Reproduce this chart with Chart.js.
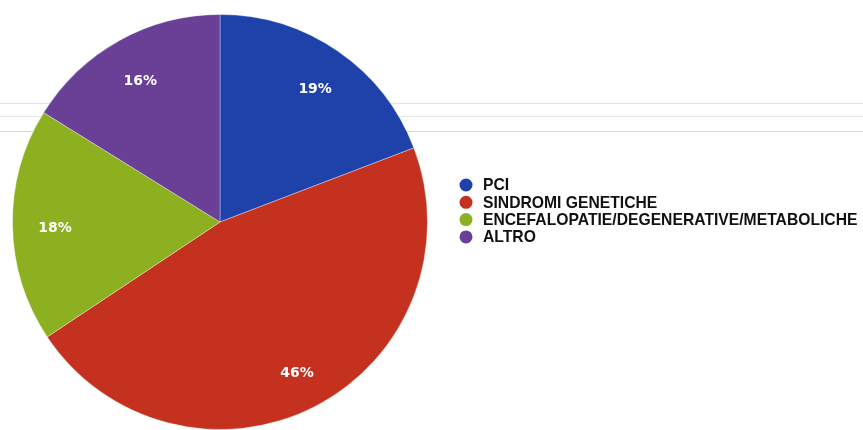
<!DOCTYPE html>
<html>
<head>
<meta charset="utf-8">
<script src="https://cdn.jsdelivr.net/npm/chart.js@4.4.0/dist/chart.umd.min.js"></script>
<style>
  html, body { margin: 0; padding: 0; background: #fff; }
  #wrap {
    position: relative; width: 863px; height: 430px;
    /* faint scan lines in the original */
    background:
      linear-gradient(#e2e2e2, #e2e2e2) 0 103px / 100% 1px no-repeat,
      linear-gradient(#e6e6e6, #e6e6e6) 0 116px / 100% 1px no-repeat,
      linear-gradient(#d6d6d6, #d6d6d6) 0 131px / 100% 1px no-repeat,
      #fff;
  }
  canvas { position: absolute; left: 0; top: 0; }
</style>
</head>
<body>
<div id="wrap"><canvas id="pieChart" width="863" height="430"></canvas></div>
<script>
// Dati
const categories = ['PCI', 'SINDROMI GENETICHE', 'ENCEFALOPATIE/DEGENERATIVE/METABOLICHE', 'ALTRO'];
const percentages = [19, 46, 18, 16];
const sliceColors = ['#1e42aa', '#c4321f', '#8cb020', '#6a3f96'];

// etichette percentuali dentro le fette
const sliceLabels = {
    id: 'sliceLabels',
    afterDatasetsDraw(chart) {
        const ctx = chart.ctx;
        const meta = chart.getDatasetMeta(0);
        ctx.save();
        ctx.fillStyle = '#ffffff';
        ctx.font = "bold 14px 'DejaVu Sans', Verdana, sans-serif";
        ctx.textAlign = 'center';
        ctx.textBaseline = 'middle';
        meta.data.forEach((arc, i) => {
            const mid = (arc.startAngle + arc.endAngle) / 2;
            const r = arc.outerRadius * 0.8;
            ctx.fillText(percentages[i] + '%', arc.x + Math.cos(mid) * r + 1, arc.y + Math.sin(mid) * r + 4);
        });
        ctx.restore();
    }
};

// legenda a destra
const sideLegend = {
    id: 'sideLegend',
    afterDraw(chart) {
        const ctx = chart.ctx;
        const x0 = 466, y0 = 185, step = 17.3;
        ctx.save();
        ctx.font = "bold 15.7px 'Liberation Sans', Arial, sans-serif";
        ctx.textBaseline = 'middle';
        categories.forEach((c, i) => {
            const y = y0 + i * step;
            ctx.beginPath();
            ctx.arc(x0, y, 6.5, 0, Math.PI * 2);
            ctx.fillStyle = sliceColors[i];
            ctx.fill();
            ctx.fillStyle = '#111111';
            ctx.fillText(c, 483, y + 1);
        });
        ctx.restore();
    }
};

new Chart(document.getElementById('pieChart'), {
    type: 'pie',
    data: {
        labels: categories,
        datasets: [{
            data: percentages,
            backgroundColor: sliceColors,
            borderColor: 'rgba(255,255,255,0.35)',
            borderWidth: 1
        }]
    },
    options: {
        responsive: false,
        animation: false,
        layout: { padding: { left: 12, top: 14, right: 435, bottom: 0 } },
        plugins: {
            legend: { display: false },
            tooltip: { enabled: false }
        }
    },
    plugins: [sliceLabels, sideLegend]
});
</script>
</body>
</html>
